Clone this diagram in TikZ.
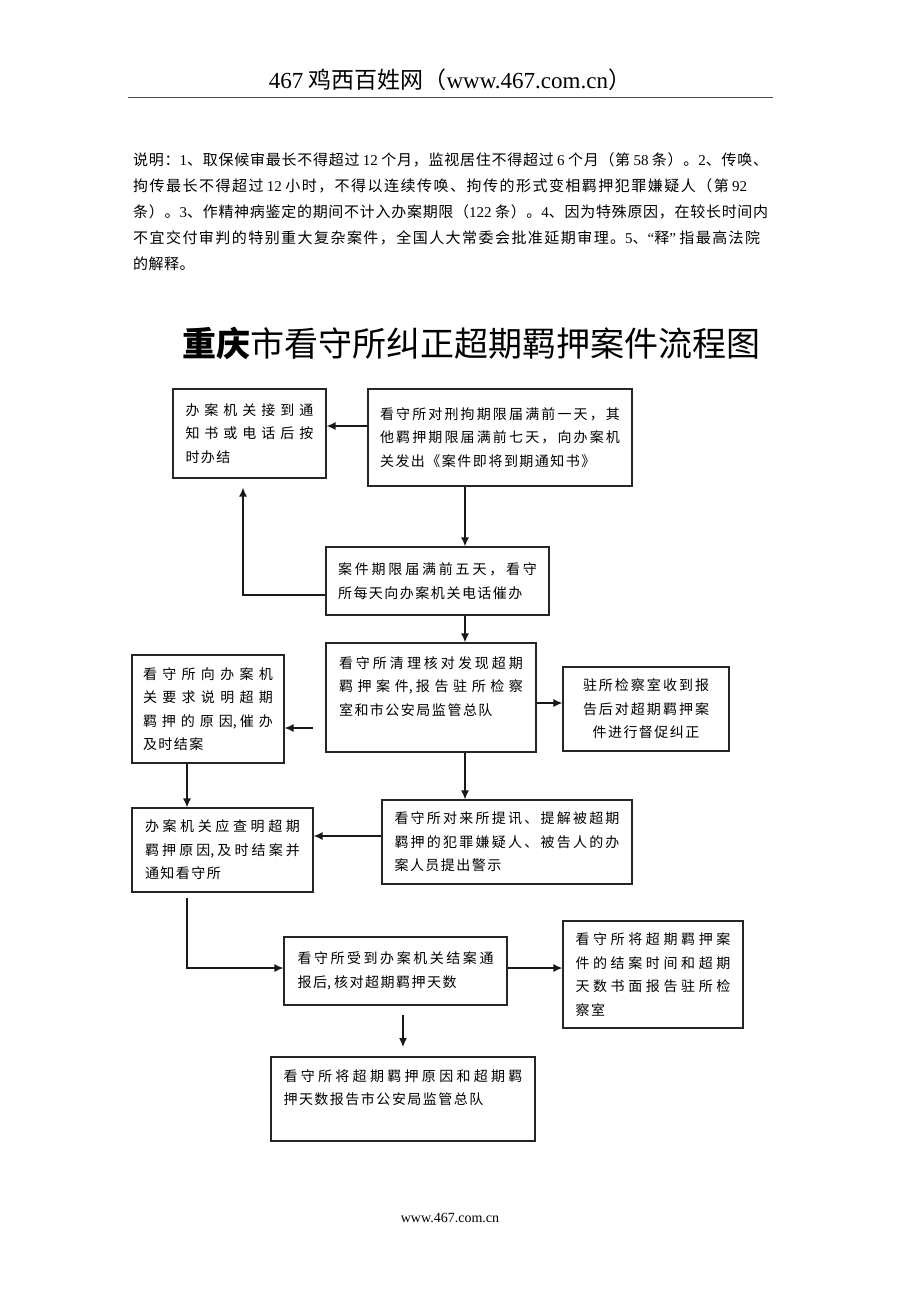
\documentclass[tikz,border=0pt]{standalone}
\usepackage{fontspec}
\setmainfont{Noto Sans CJK SC}
\newfontfamily\timesrm{Liberation Serif}
\usetikzlibrary{arrows.meta}

\newskip\hzgap \hzgap=0pt
\newXeTeXintercharclass\hanzi
\count255="3000
\loop \XeTeXcharclass\count255=\hanzi \advance\count255 by 1 \ifnum\count255<"A000 \repeat
\count255="FF00
\loop \XeTeXcharclass\count255=\hanzi \advance\count255 by 1 \ifnum\count255<"FFF0 \repeat
\XeTeXinterchartoks\hanzi\hanzi={\hskip\hzgap\relax}
\XeTeXinterchartokenstate=1

\newcommand\jl[2]{\hbox to #1pt{\hzgap=\the\hzgap\space plus 1fil\relax#2}}
\newcommand\tnum[1]{{\timesrm #1}}
\newcommand\boxfont{\fontsize{14}{23.5}\selectfont\hzgap=1.5pt\relax}

\begin{document}
\begin{tikzpicture}[x=1pt,y=-1pt,>={Latex[length=9pt,width=8pt]},
    box/.style={draw=black!85,line width=1.2pt,inner sep=0pt,align=left,font=\boxfont},
    link/.style={line width=1.3pt,black!90}]
        \path[fill=white,use as bounding box] (0,0) rectangle (920,1302);

        \node (head) at (450,80) {\fontsize{23}{27}\selectfont\tnum{467} 鸡西百姓网（\tnum{www.467.com.cn}）};
        \draw[line width=1.8pt,black!70] (128,97.5) -- (773,97.5);
        \node[anchor=north west,inner sep=0pt,align=left,font={\fontsize{15}{26}\selectfont\hzgap=0.5pt\relax}] (note) at (133,152.5)
            {\jl{635}{说明：\tnum{1}、取保候审最长不得超过 \tnum{12} 个月，监视居住不得超过 \tnum{6} 个月（第 \tnum{58} 条）。\tnum{2}、传唤、}\\
             \jl{614}{拘传最长不得超过 \tnum{12} 小时，不得以连续传唤、拘传的形式变相羁押犯罪嫌疑人（第 \tnum{92}}\\
             \jl{635}{条）。\tnum{3}、作精神病鉴定的期间不计入办案期限（\tnum{122} 条）。\tnum{4}、因为特殊原因，在较长时间内}\\
             \jl{627}{不宜交付审判的特别重大复杂案件，全国人大常委会批准延期审理。\tnum{5}、\tnum{“}释\tnum{”} 指最高法院}\\
             的解释。};
        \node (title) at (471.5,343) {\fontsize{34}{40}\selectfont{\bfseries 重庆}市看守所纠正超期羁押案件流程图};

        \node[box,minimum width=153,minimum height=89] (b1) at (249.5,433.5)
            {\jl{128}{办案机关接到通}\\ \jl{128}{知书或电话后按}\\ 时办结};
        \node[box,minimum width=264,minimum height=97] (b2) at (500,437.5)
            {\jl{240}{看守所对刑拘期限届满前一天，其}\\ \jl{240}{他羁押期限届满前七天，向办案机}\\ 关发出《案件即将到期通知书》};
        \node[box,minimum width=223,minimum height=68] (b3) at (437.5,581)
            {\jl{199}{案件期限届满前五天，看守}\\ 所每天向办案机关电话催办};
        \node[box,minimum width=210,minimum height=109] (b4) at (431,697.5)
            {\jl{184}{看守所清理核对发现超期}\\ \jl{184}{羁押案件, 报告驻所检察}\\ 室和市公安局监管总队\\ \mbox{}};
        \node[box,minimum width=152,minimum height=108] (b5) at (208,709)
            {\jl{130}{看守所向办案机}\\ \jl{130}{关要求说明超期}\\ \jl{130}{羁押的原因, 催办}\\ 及时结案};
        \node[box,align=center,minimum width=166,minimum height=84] (b6) at (646,709)
            {\jl{126}{驻所检察室收到报}\\ \jl{126}{告后对超期羁押案}\\ 件进行督促纠正};
        \node[box,minimum width=250,minimum height=84] (b7) at (507,842)
            {\jl{225}{看守所对来所提讯、提解被超期}\\ \jl{225}{羁押的犯罪嫌疑人、被告人的办}\\ 案人员提出警示};
        \node[box,minimum width=181,minimum height=84] (b8) at (222.5,850)
            {\jl{155}{办案机关应查明超期}\\ \jl{155}{羁押原因, 及时结案并}\\ 通知看守所};
        \node[box,minimum width=223,minimum height=68] (b9) at (395.5,971)
            {\jl{196}{看守所受到办案机关结案通}\\ 报后, 核对超期羁押天数};
        \node[box,minimum width=180,minimum height=107] (b10) at (653,974.5)
            {\jl{155}{看守所将超期羁押案}\\ \jl{155}{件的结案时间和超期}\\ \jl{155}{天数书面报告驻所检}\\ 察室};
        \node[box,minimum width=264,minimum height=84] (b11) at (403,1099)
            {\jl{239}{看守所将超期羁押原因和超期羁}\\ 押天数报告市公安局监管总队\\ \mbox{}};

        \coordinate (c1) at (313,728);
        \coordinate (c2) at (403,1015);
        \coordinate (c3) at (403,1047);

        \draw[link,->] ([yshift=11.5pt]b2.west) -- ([yshift=11.5pt]b2.west -| b1.east);
        \draw[link,->] ([xshift=-35pt]b2.south) -- ([xshift=-35pt]b2.south |- b3.north);
        \draw[link,->] ([yshift=-14pt]b3.west) -| ([xshift=-6.5pt,yshift=-9pt]b1.south);
        \draw[link,->] ([xshift=27.5pt]b3.south) -- ([xshift=27.5pt]b3.south |- b4.north);
        \draw[link,->] (c1) -- (c1 -| b5.east);
        \draw[link,->] ([yshift=-5.5pt]b4.east) -- ([yshift=-5.5pt]b4.east -| b6.west);
        \draw[link,->] ([xshift=34pt]b4.south) -- ([xshift=34pt]b4.south |- b7.north);
        \draw[link,->] ([xshift=-21pt]b5.south) -- ([xshift=-21pt]b5.south |- b8.north);
        \draw[link,->] ([yshift=6pt]b7.west) -- ([yshift=6pt]b7.west -| b8.east);
        \draw[link,->] ([xshift=-35.5pt,yshift=-5pt]b8.south) |- ([yshift=3pt]b9.west);
        \draw[link,->] ([yshift=3pt]b9.east) -- ([yshift=3pt]b9.east -| b10.west);
        \draw[link,->] (c2) -- (c3);

        \node (foot) at (450,1218) {\fontsize{14}{17}\selectfont\tnum{www.467.com.cn}};
\end{tikzpicture}
\end{document}
